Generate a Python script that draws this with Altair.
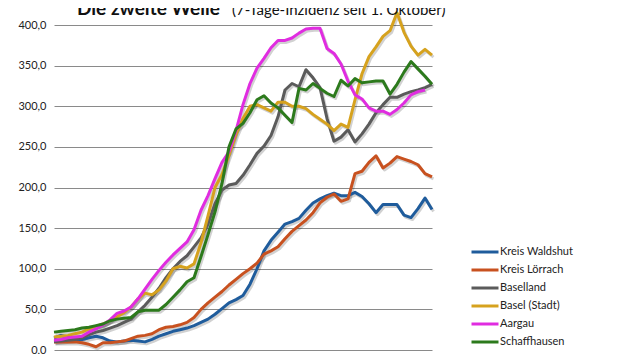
import altair as alt
import pandas as pd

# --- data (7-Tage-Inzidenz, daily from 1 October) ---
tage = pd.date_range("2020-10-01", periods=55, freq="D").strftime("%Y-%m-%d").tolist()

regionen = ["Kreis Waldshut", "Kreis Lörrach", "Baselland", "Basel (Stadt)", "Aargau", "Schaffhausen"]
farben = ["#1f5c9c", "#c8511f", "#5b5b5b", "#d6a21e", "#e02ce0", "#2c7a1c"]

waldshut = [15, 18, 16, 13, 13, 15, 17, 15, 11, 10, 11, 12, 11, 10, 13, 17, 20, 23, 25, 27,
            30, 34, 38, 44, 51, 58, 62, 67, 81, 100, 122, 135, 145, 155, 158, 162, 172, 181, 186, 190,
            193, 190, 190, 194, 189, 180, 169, 179, 179, 179, 166, 163, 174, 187, 173]
loerrach = [10, 10, 10, 10, 9, 7, 4, 9, 9, 10, 11, 14, 17, 18, 20, 25, 28, 29, 31, 34,
            40, 50, 58, 65, 72, 80, 87, 94, 100, 107, 118, 122, 127, 137, 146, 153, 160, 169, 181, 188,
            192, 183, 186, 217, 220, 231, 239, 224, 230, 238, 235, 232, 228, 217, 213]
baselland = [10, 11, 12, 13, 15, 19, 22, 24, 27, 30, 34, 38, 47, 55, 65, 76, 89, 100, 109, 116,
             127, 138, 155, 180, 197, 203, 205, 215, 228, 242, 251, 264, 287, 320, 328, 324, 345, 335, 323, 285,
             257, 262, 271, 256, 266, 278, 292, 302, 311, 311, 315, 318, 320, 323, 327]
basel_stadt = [16, 17, 18, 20, 22, 26, 29, 32, 36, 41, 46, 53, 63, 70, 68, 74, 85, 100, 103, 101,
               106, 132, 165, 200, 216, 240, 265, 285, 300, 302, 298, 294, 305, 305, 300, 300, 297, 290, 284, 278,
               270, 278, 274, 308, 340, 361, 373, 386, 393, 415, 391, 374, 363, 370, 363]
aargau = [12, 13, 15, 16, 17, 22, 26, 31, 37, 45, 48, 53, 63, 75, 87, 98, 108, 117, 125, 133,
          148, 172, 190, 211, 231, 244, 270, 302, 328, 347, 359, 372, 381, 381, 384, 390, 395, 396, 396, 371,
          365, 352, 331, 314, 309, 298, 294, 294, 290, 296, 304, 314, 318, 320, None]
schaffhausen = [22, 23, 24, 25, 27, 28, 30, 32, 36, 38, 39, 40, 47, 49, 49, 49, 56, 65, 74, 84,
                89, 115, 142, 170, 205, 250, 272, 279, 292, 308, 313, 304, 298, 289, 280, 322, 320, 328, 322, 316,
                312, 332, 325, 334, 329, 330, 331, 331, 315, 327, 342, 355, 346, 337, 327]

y_ticks = [0, 50, 100, 150, 200, 250, 300, 350, 400]

serien = [waldshut, loerrach, baselland, basel_stadt, aargau, schaffhausen]
rows = []
for name, werte in zip(regionen, serien):
    for t, v in zip(tage, werte):
        rows.append({"Tag": t, "Region": name, "Inzidenz": v, "Ordnung": regionen.index(name)})
df = pd.DataFrame(rows)

titel = pd.DataFrame({"fett": ["Die zweite Welle"], "normal": ["(7-Tage-Inzidenz seit 1. Oktober)"]})

FONT = "Lato"

x_enc = alt.X("Tag:T", axis=None,
              scale=alt.Scale(domain=[tage[0], tage[-1]], nice=False, padding=0))
y_enc = alt.Y("Inzidenz:Q",
              scale=alt.Scale(domain=[0, 400], nice=False, zero=True),
              axis=alt.Axis(values=y_ticks, grid=True, gridColor="#8a8a8a", gridWidth=1,
                            domain=False, ticks=False, title=None,
                            labelExpr="replace(format(datum.value, '.1f'), '.', ',')",
                            labelFont=FONT, labelFontSize=11, labelColor="#222222",
                            labelPadding=8))

shadow = alt.Chart(df).mark_line(strokeWidth=3, color="#000000", opacity=0.18,
                                 xOffset=1.5, yOffset=2, strokeJoin="round").encode(
    x=x_enc, y=y_enc, detail="Region:N", order="Ordnung:Q"
)

lines = alt.Chart(df).mark_line(strokeWidth=3, strokeJoin="round").encode(
    x=x_enc,
    y=y_enc,
    color=alt.Color("Region:N",
                    scale=alt.Scale(domain=regionen, range=farben),
                    sort=regionen,
                    legend=alt.Legend(title=None, orient="none", legendX=425, legendY=221,
                                      symbolType="M-3,0H3", symbolSize=81, symbolStrokeWidth=3,
                                      labelOffset=9, labelFont=FONT, labelFontSize=11,
                                      labelColor="#222222", rowPadding=6, padding=0)),
    order="Ordnung:Q",
)

t1 = alt.Chart(titel).mark_text(font=FONT, fontSize=19, fontWeight="bold", align="left",
                                baseline="alphabetic", color="#111111").encode(
    x=alt.value(23), y=alt.value(-10), text="fett:N")
t2 = alt.Chart(titel).mark_text(font=FONT, fontSize=15, align="left",
                                baseline="alphabetic", color="#111111").encode(
    x=alt.value(178), y=alt.value(-10), text="normal:N")

chart = alt.layer(shadow, lines, t1, t2).properties(
    width=378, height=325,
    autosize=alt.AutoSizeParams(type="none"),
    padding={"left": 46, "top": 17, "right": 204, "bottom": 4},
    background="white",
).configure_view(stroke=None)

chart.save("out.html", embed_options={"renderer": "svg", "actions": False})
